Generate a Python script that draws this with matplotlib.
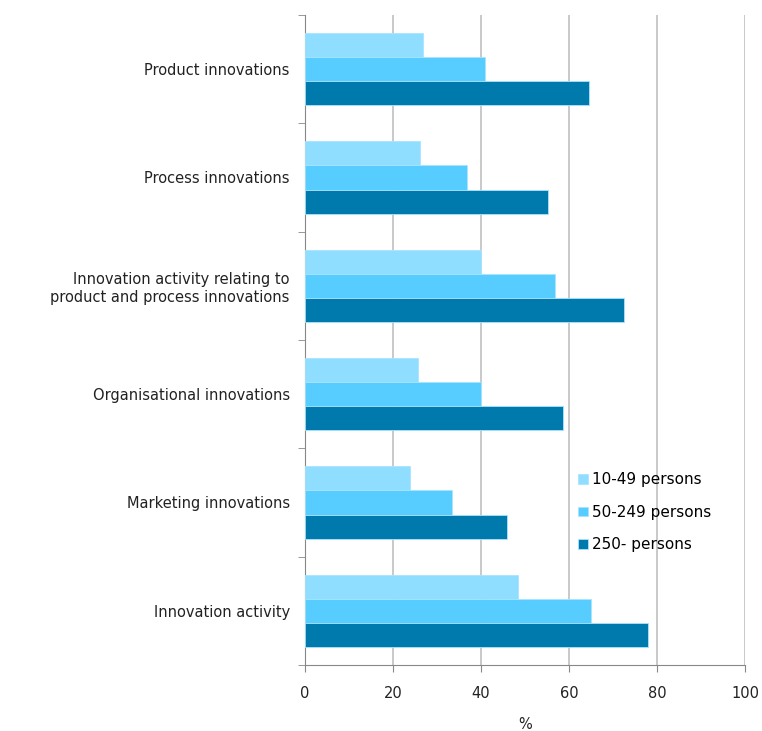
import numpy as np
import matplotlib.pyplot as plt

categories = ['Product innovations', 'Process innovations',
              'Innovation activity relating to\nproduct and process innovations',
              'Organisational innovations', 'Marketing innovations',
              'Innovation activity']
small = [26.8, 26.1, 40.1, 25.6, 23.8, 48.3]
medium = [41.0, 36.7, 56.9, 40.1, 33.3, 64.9]
large = [64.6, 55.3, 72.6, 58.7, 46.0, 78.0]
series_names = ['10-49 persons', '50-249 persons', '250- persons']
colors = ['#8fdeff', '#57cdff', '#0079ad']

plt.rcParams['font.family'] = ['DejaVu Sans']
fig = plt.figure(figsize=(7.62, 7.31), dpi=100)
ax = fig.add_axes([0.4003, 0.0903, 0.5774, 0.8892])

y = np.arange(len(categories))
h = 0.222
for i, (vals, name, c) in enumerate(zip([small, medium, large], series_names, colors)):
    ax.barh(y + (i - 1) * h, vals, height=h, color=c, label=name,
            edgecolor='#a9e4ff', linewidth=0.6, zorder=3)

ax.set_xlim(0, 100)
ax.set_ylim(len(categories) - 0.5, -0.5)
ax.set_xticks(np.arange(0, 101, 20))
ax.set_yticks(y)
ax.set_yticklabels(categories, fontsize=10.5, color='#222222')
ax.set_yticks(np.arange(-0.5, len(categories), 1), minor=True)
ax.tick_params(axis='y', which='major', length=0, pad=11)
ax.tick_params(axis='y', which='minor', length=5, color='#888888')
ax.tick_params(axis='x', length=5, color='#888888', labelsize=10.5, pad=10,
               labelcolor='#222222')
ax.grid(axis='x', color='#c0c0c0', linewidth=1.2, zorder=0)
for s in ['top', 'right']:
    ax.spines[s].set_visible(False)
for s in ['left', 'bottom']:
    ax.spines[s].set_color('#888888')
ax.set_xlabel('%', fontsize=10.5, labelpad=12, color='#222222')

leg = ax.legend(loc='lower right', bbox_to_anchor=(0.955, 0.152), frameon=False,
                fontsize=11, handlelength=0.6, handleheight=0.6,
                handletextpad=0.3, labelspacing=1.15)

fig.savefig('out.png', dpi=100)
